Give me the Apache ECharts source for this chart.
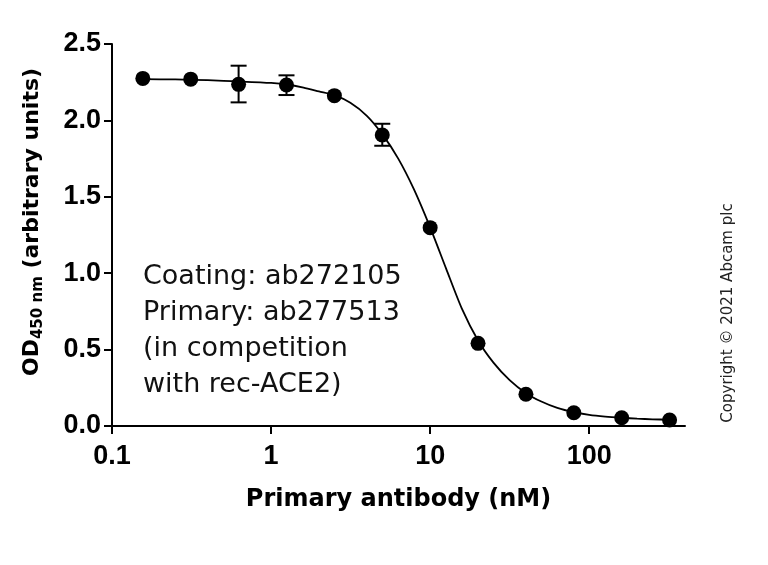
<!DOCTYPE html>
<html>
<head>
<meta charset="utf-8">
<script src="https://cdn.jsdelivr.net/npm/echarts@6/dist/echarts.min.js"></script>
<style>
  html, body { margin: 0; background: #fff; }
  #chart { width: 768px; height: 565px; }
</style>
</head>
<body>
<div id="chart"></div>
<script>
  // primary antibody (nM), 2-fold dilution series
  var conc = [0.15625, 0.3125, 0.625, 1.25, 2.5, 5, 10, 20, 40, 80, 160, 320]
  var od = [2.275, 2.27, 2.236, 2.232, 2.162, 1.904, 1.298, 0.541, 0.208, 0.087, 0.054, 0.039]

  // error bars
  var errConc = [0.625, 1.25, 5]
  var errLow = [2.118, 2.166, 1.834]
  var errHigh = [2.358, 2.295, 1.978]

  // fitted curve
  var fitConc = [0.15625, 0.25, 0.4, 0.63, 1, 1.26, 1.6, 2, 2.5, 3.15, 4, 5, 6.3, 7.9, 10, 12.6, 15.8, 20, 25, 31.6, 40, 50, 63, 80, 100, 126, 160, 200, 250, 320]
  var fitOd = [2.27, 2.268, 2.263, 2.255, 2.245, 2.235, 2.215, 2.19, 2.165, 2.115, 2.03, 1.91, 1.75, 1.55, 1.30, 1.03, 0.77, 0.56, 0.415, 0.30, 0.215, 0.16, 0.118, 0.09, 0.073, 0.062, 0.054, 0.048, 0.044, 0.041]

  var xTicks = [0.1, 1, 10, 100]
  var note = ['Coating: ab272105', 'Primary: ab277513', '(in competition', 'with rec-ACE2)']

  var FONT = 'DejaVu Sans'
  var TICK_FONT = 'Liberation Sans'
  var chart = echarts.init(document.getElementById('chart'))

  chart.setOption({
    animation: false,
    grid: {
      left: 112,
      right: 83,
      top: 44,
      bottom: 139
    },
    xAxis: {
      type: 'log',
      logBase: 10,
      min: 0.1,
      max: 400,
      name: 'Primary antibody (nM)',
      nameLocation: 'middle',
      nameGap: 62,
      nameTextStyle: {
        color: '#000',
        fontFamily: FONT,
        fontWeight: 'bold',
        fontSize: 24
      },
      axisLine: {
        lineStyle: { color: '#000', width: 2 }
      },
      axisTick: {
        customValues: xTicks,
        length: 8,
        lineStyle: { color: '#000', width: 2 }
      },
      axisLabel: {
        customValues: xTicks,
        margin: 17,
        color: '#000',
        fontFamily: TICK_FONT,
        fontWeight: 'bold',
        fontSize: 27,
        formatter: function (v) {
          return String(v)
        }
      },
      splitLine: { show: false },
      minorTick: { show: false }
    },
    yAxis: {
      type: 'value',
      min: 0,
      max: 2.5,
      interval: 0.5,
      name: '{b|OD}{s|450 nm}{b| (arbitrary units)}',
      nameLocation: 'middle',
      nameGap: 66,
      nameTextStyle: {
        padding: [0, 0, 0, 26],
        rich: {
          b: {
            color: '#000',
            fontFamily: FONT,
            fontWeight: 'bold',
            fontSize: 22,
            lineHeight: 28
          },
          s: {
            color: '#000',
            fontFamily: FONT,
            fontWeight: 'bold',
            fontSize: 15,
            verticalAlign: 'bottom',
            lineHeight: 28
          }
        }
      },
      axisLine: {
        show: true,
        lineStyle: { color: '#000', width: 2 }
      },
      axisTick: {
        show: true,
        length: 8,
        lineStyle: { color: '#000', width: 2 }
      },
      axisLabel: {
        margin: 11,
        color: '#000',
        fontFamily: TICK_FONT,
        fontWeight: 'bold',
        fontSize: 27,
        formatter: function (v) {
          return v.toFixed(1)
        }
      },
      splitLine: { show: false }
    },
    graphic: [
      {
        type: 'text',
        x: 143,
        y: 259,
        style: {
          text: note.join('\n'),
          fontFamily: FONT,
          fontSize: 27,
          lineHeight: 36,
          fill: '#111'
        }
      },
      {
        type: 'text',
        x: 728,
        y: 313,
        rotation: Math.PI / 2,
        style: {
          text: 'Copyright © 2021 Abcam plc',
          fontFamily: FONT,
          fontSize: 15,
          fill: '#222',
          align: 'center',
          verticalAlign: 'middle'
        }
      }
    ],
    series: [
      {
        name: 'fit',
        type: 'line',
        data: fitConc.map(function (c, i) { return [c, fitOd[i]] }),
        showSymbol: false,
        smooth: 0.25,
        lineStyle: { color: '#000', width: 1.8 },
        z: 2
      },
      {
        name: 'error',
        type: 'custom',
        data: errConc.map(function (c, i) { return [c, errLow[i], errHigh[i]] }),
        encode: { x: 0, y: [1, 2] },
        renderItem: function (params, api) {
          var x = api.value(0)
          var lo = api.coord([x, api.value(1)])
          var hi = api.coord([x, api.value(2)])
          var w = 8
          var st = { stroke: '#000', lineWidth: 2 }
          return {
            type: 'group',
            children: [
              { type: 'line', shape: { x1: lo[0], y1: lo[1], x2: hi[0], y2: hi[1] }, style: st },
              { type: 'line', shape: { x1: lo[0] - w, y1: lo[1], x2: lo[0] + w, y2: lo[1] }, style: st },
              { type: 'line', shape: { x1: hi[0] - w, y1: hi[1], x2: hi[0] + w, y2: hi[1] }, style: st }
            ]
          }
        },
        z: 3
      },
      {
        name: 'OD',
        type: 'scatter',
        data: conc.map(function (c, i) { return [c, od[i]] }),
        symbolSize: 15,
        itemStyle: { color: '#000', opacity: 1 },
        z: 4
      }
    ]
  })
</script>
</body>
</html>
